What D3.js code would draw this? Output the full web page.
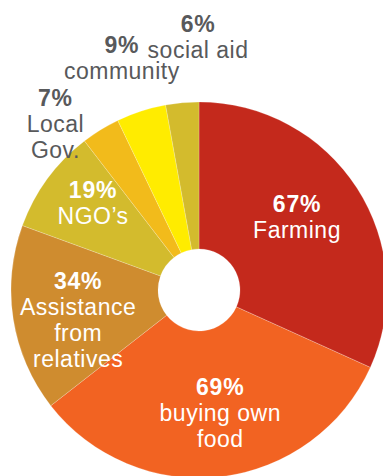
<!DOCTYPE html>
<html lang="en">
<head>
    <meta charset="utf-8">
    <title>Food sources</title>
    <script src="https://cdn.jsdelivr.net/npm/d3@7"></script>
</head>
<style>
    body { margin: 0; background: #fff; }
    svg { display: block; }
    .lbl { font-family: "Liberation Sans", Arial, sans-serif; font-size: 23px; letter-spacing: 0.5px; }
    .pct { font-weight: bold; letter-spacing: 0.8px; }
</style>
<body>
<script type="text/javascript">

    // data
    var categories = ['Farming', 'buying own food', 'Assistance from relatives', "NGO\u2019s", 'Local Gov.', 'community', 'social aid'];
    var values = [67, 69, 34, 19, 7, 9, 6];
    var labelLines = [
        ['Farming'],
        ['buying own', 'food'],
        ['Assistance', 'from', 'relatives'],
        ["NGO\u2019s"],
        ['Local', 'Gov.'],
        ['community'],
        ['social aid']
    ];
    var colors = ['#c4291c', '#f26322', '#cf8c2f', '#d3bb2d', '#f2bb1b', '#ffec00', '#d3bb2d'];

    // label layout: angle shift (deg) from slice middle, radius, inside or outside
    var labelShift = [-4, -3, -4.7, 3.3, -9.2, -0.5, 4.9];
    var labelRad = [122.5, 124.5, 124.4, 137.4, 220, 244.4, 253.5];
    var outside = [false, false, false, false, true, true, true];

    var W = 383, H = 476;
    var cx = 199, cy = 290, R = 188, r0 = 41;
    var lh = 26, cap = 16.5;

    var svg = d3.select('body').append('svg')
        .attr('width', W)
        .attr('height', H);

    var g = svg.append('g').attr('transform', 'translate(' + cx + ',' + cy + ')');

    var pie = d3.pie().sort(null).value(function (d) { return d; });
    var arcs = pie(values);
    var arc = d3.arc().innerRadius(r0).outerRadius(R);

    g.selectAll('path.slice')
        .data(arcs)
        .enter()
        .append('path')
        .attr('class', 'slice')
        .attr('d', arc)
        .attr('fill', function (d, i) { return colors[i]; })
        .attr('stroke', 'rgba(255,255,255,0.35)')
        .attr('stroke-width', 0.6);

    arcs.forEach(function (d, i) {
        var a = (d.startAngle + d.endAngle) / 2 + labelShift[i] * Math.PI / 180;
        var x = Math.sin(a) * labelRad[i];
        var y = -Math.cos(a) * labelRad[i];
        var lines = [values[i] + '%'].concat(labelLines[i]);
        var n = lines.length;
        var blockH = (n - 1) * lh + cap;
        var y0 = y - blockH / 2 + cap;
        var col = outside[i] ? '#58595b' : '#ffffff';

        lines.forEach(function (t, j) {
            g.append('text')
                .attr('class', 'lbl' + (j === 0 ? ' pct' : ''))
                .attr('text-anchor', 'middle')
                .attr('fill', col)
                .attr('x', x)
                .attr('y', y0 + j * lh)
                .text(t);
        });
    });

</script>
</body>
</html>
